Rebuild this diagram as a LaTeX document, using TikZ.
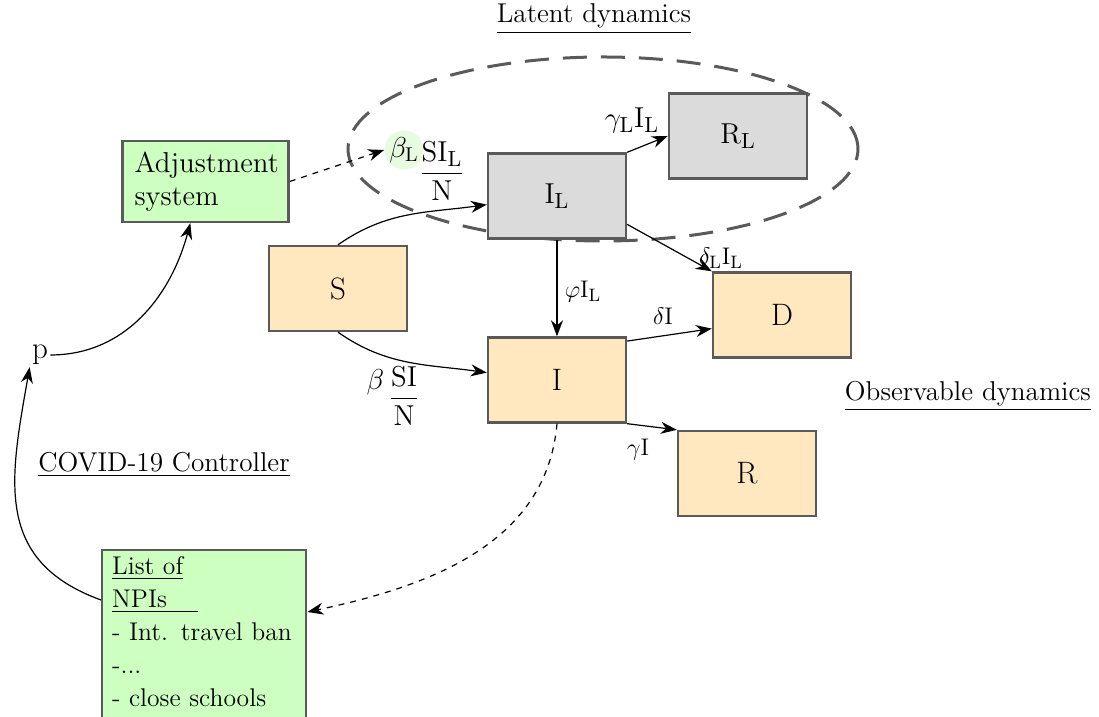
\documentclass[tikz,border=0pt]{standalone}
\usepackage{amsmath,amssymb}
\usepackage{xcolor}
\usepackage{tikz}
\usetikzlibrary{calc,arrows.meta}
\definecolor{edge}{HTML}{5A5A5A}
\definecolor{peach}{HTML}{FFE7BF}
\definecolor{latent}{HTML}{DCDBDC}
\definecolor{ctrl}{HTML}{CCFFC0}
\definecolor{halo}{HTML}{E6FBE0}
\newcommand{\Lsub}{_{\mathrm{L}}}
\tikzset{
  box/.style={draw=edge, line width=1.2pt, minimum width=69pt, minimum height=42.5pt,
    font=\fontsize{15.5}{18}\selectfont},
  obs/.style={box, fill=peach},
  lat/.style={box, fill=latent},
  ctl/.style={draw=edge, line width=1.2pt, fill=ctrl, align=left, inner xsep=6pt,
    font=\fontsize{14.4}{16.5}\selectfont},
  flow/.style={-{Stealth[length=8pt,width=6pt]}, line width=0.6pt},
  ctrlflow/.style={flow, dashed},
  lab/.style={font=\fontsize{13}{15}\selectfont, inner sep=1pt},
  biglab/.style={font=\fontsize{15.5}{18}\selectfont, inner sep=1pt},
  heading/.style={font=\fontsize{13.6}{16}\selectfont},
}

\begin{document}
\begin{tikzpicture}[x=0.5pt,y=0.5pt]
  \useasboundingbox (0,0) rectangle (1099,717);
  % latent part of the model
  \draw[edge, line width=1.5pt, dash pattern=on 12pt off 7pt] (603,568) ellipse [x radius=255, y radius=92];
  \node[heading] (latent) at (594,698) {\underline{Latent dynamics}};
  \node[heading, anchor=east] (observable) at (1098,321) {\underline{Observable dynamics}};
  \node[heading] (controller) at (164,252) {\underline{COVID-19 Controller}};

  % compartments
  \node[obs] (S) at (338,428.5) {S};
  \node[lat] (IL) at (557,521) {$\mathrm{I}\Lsub$};
  \node[lat] (RL) at (738,581) {$\mathrm{R}\Lsub$};
  \node[obs] (D) at (782,402) {D};
  \node[obs] (I) at (557,337) {I};
  \node[obs] (R) at (747,243.5) {R};

  % controller
  \node[ctl, text width=71pt, minimum height=40.5pt] (adj) at (205.5,535.5) {Adjustment\\system};
  \node[ctl, text width=92pt, inner xsep=5pt, anchor=north west,
    font=\fontsize{12.8}{16.5}\selectfont] (npi) at (101,168)
    {\underline{List of}\\\underline{NPIs\hspace{1.2em}}\\- Int. travel ban\\-...\\- close schools\\[-2pt]\mbox{}};
  \node[biglab] (p) at (40,362) {p};

  % rates
  \node[circle, fill=halo, minimum size=17pt, inner sep=0pt, font=\fontsize{14}{16}\selectfont] (betaL) at (404,567) {$\beta\Lsub$};
  \node[biglab] (fracL) at (442,546) {$\dfrac{\mathrm{SI}\Lsub}{\mathrm{N}}$};
  \node[biglab] (beta) at (393,321) {$\raisebox{1.2ex}{$\beta$}\,\dfrac{\mathrm{SI}}{\mathrm{N}}$};
  \node[biglab] (gammaL) at (632,597) {$\gamma\Lsub\mathrm{I}\Lsub$};
  \node[lab] (deltaL) at (721,459) {$\delta\Lsub\mathrm{I}\Lsub$};
  \node[lab] (phi) at (583,425) {$\varphi\mathrm{I}\Lsub$};
  \node[lab] (delta) at (663,401) {$\delta\mathrm{I}$};
  \node[lab] (gamma) at (638,267) {$\gamma\mathrm{I}$};

  % flows
  \draw[flow] (S.north) to[out=35,in=188] (IL.187);
  \draw[flow] (S.south) to[out=-35,in=172] (I.174);
  \draw[flow] (IL.north east) -- (RL.west);
  \draw[flow] (IL.-22) -- (D.north west);
  \draw[flow] (IL.south) -- (I.north);
  \draw[flow] (I.29.5) -- (D.191);
  \draw[flow] (I.south east) -- (R.north west);

  % control loop
  \draw[ctrlflow] (adj.east) -- (betaL.west);
  \draw[ctrlflow] (I.south) to[out=-95,in=12] ($(npi.north east)+(0,-63)$);
  \draw[flow] ($(npi.north west)+(0,-51)$) to[out=160,in=-100,looseness=1.2] (p.south west);
  \draw[flow] (p.east) to[out=0,in=-105] (adj.250);
\end{tikzpicture}
\end{document}
